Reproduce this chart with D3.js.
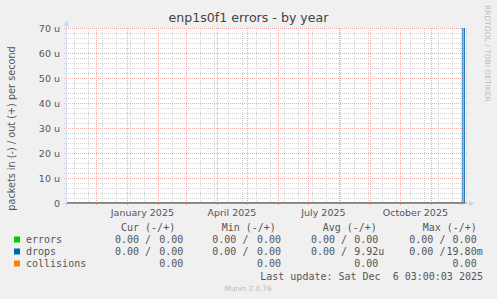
<!DOCTYPE html>
<html>
<head>
<meta charset="utf-8">
<script src="https://cdn.jsdelivr.net/npm/d3@7"></script>
<style>
html, body { margin: 0; padding: 0; background: #f0f0f0; }
svg { display: block; font-family: "DejaVu Sans", sans-serif; }
.mono text { font-family: "DejaVu Sans Mono", monospace; font-size: 10px; fill: #555; white-space: pre; }
</style>
</head>
<body>
<div id="chart"></div>
<script>
const width = 497;
const height = 299;
const plot = { left: 66, right: 466, top: 28, bottom: 203 };

// time window of the yearly graph
const startTime = "2024-11-01T03:00:00Z";
const endTime = "2025-12-06T03:00:00Z";
const minorGridStart = "2024-11-09T00:00:00Z";

// y ticks (packets per second)
const yMajorTicks = [0, 10e-6, 20e-6, 30e-6, 40e-6, 50e-6, 60e-6, 70e-6];
const yMinorTicks = [2e-6, 4e-6, 6e-6, 8e-6, 12e-6, 14e-6, 16e-6, 18e-6, 22e-6, 24e-6, 26e-6, 28e-6,
    32e-6, 34e-6, 36e-6, 38e-6, 42e-6, 44e-6, 46e-6, 48e-6, 52e-6, 54e-6, 56e-6, 58e-6, 62e-6, 64e-6, 66e-6, 68e-6];
const yTickLabels = ["0", "10 u", "20 u", "30 u", "40 u", "50 u", "60 u", "70 u"];

// x labels: one per quarter, centred in the month
const xLabelMonths = ["2025-01-01", "2025-04-01", "2025-07-01", "2025-10-01"];

// series (in = drawn negative, out = positive)
const errorsIn = [["2024-11-01T03:00:00Z", 0], ["2025-12-06T03:00:00Z", 0]];
const errorsOut = [["2024-11-01T03:00:00Z", 0], ["2025-12-06T03:00:00Z", 0]];
const dropsIn = [["2024-11-01T03:00:00Z", 0], ["2025-12-06T03:00:00Z", 0]];
const dropsOut = [["2024-11-01T03:00:00Z", 0], ["2025-12-03T00:00:00Z", 0.0198],
    ["2025-12-04T12:00:00Z", 0], ["2025-12-06T03:00:00Z", 0]];
const collisions = [["2024-11-01T03:00:00Z", 0], ["2025-12-06T03:00:00Z", 0]];

// legend
const seriesNames = ["errors", "drops", "collisions"];
const seriesColors = ["#00cc00", "#0066b3", "#ff8000"];
const legendHeaders = ["Cur (-/+)", "Min (-/+)", "Avg (-/+)", "Max (-/+)"];
const legendCur = [[0, 0], [0, 0], [null, 0]];
const legendMin = [[0, 0], [0, 0], [null, 0]];
const legendAvg = [[0, 0], [0, 9.92e-6], [null, 0]];
const legendMax = [[0, 0], [0, 19.80e-3], [null, 0]];
const lastUpdate = "Last update: Sat Dec\u00a0\u00a06 03:00:03 2025";

const svg = d3.select("#chart")
    .append("svg")
    .attr("width", width)
    .attr("height", height)
    .style("background-color", "#f0f0f0");

const x = d3.scaleUtc([new Date(startTime), new Date(endTime)], [plot.left, plot.right]);
const y = d3.scaleLinear([0, 70e-6], [plot.bottom, plot.top]);

// canvas
svg.append("rect")
    .attr("x", plot.left).attr("y", plot.top)
    .attr("width", plot.right - plot.left).attr("height", plot.bottom - plot.top)
    .attr("fill", "#ffffff");

const grid = svg.append("g").attr("shape-rendering", "crispEdges");
const minorColor = "#d2d2d2";
const majorColor = "#eeaaaa";

// minor grid
grid.selectAll(".hminor").data(yMinorTicks).join("line")
    .attr("x1", plot.left - 2).attr("x2", plot.right + 2)
    .attr("y1", d => Math.round(y(d)) + 0.5).attr("y2", d => Math.round(y(d)) + 0.5)
    .attr("stroke", minorColor).attr("stroke-dasharray", "1,1");

const minorDays = d3.utcDay.range(new Date(minorGridStart), new Date(endTime), 14);
grid.selectAll(".vminor").data(minorDays).join("line")
    .attr("x1", d => Math.round(x(d)) + 0.5).attr("x2", d => Math.round(x(d)) + 0.5)
    .attr("y1", plot.top).attr("y2", plot.bottom)
    .attr("stroke", minorColor).attr("stroke-dasharray", "1,1");

// major grid
grid.selectAll(".hmajor").data(yMajorTicks.slice(1)).join("line")
    .attr("x1", plot.left - 2).attr("x2", plot.right + 2)
    .attr("y1", d => Math.round(y(d)) + 0.5).attr("y2", d => Math.round(y(d)) + 0.5)
    .attr("stroke", majorColor).attr("stroke-dasharray", "1,1");

const months = d3.utcMonth.range(new Date(startTime), new Date(endTime));
grid.selectAll(".vmajor").data(months).join("line")
    .attr("x1", d => Math.round(x(d)) + 0.5).attr("x2", d => Math.round(x(d)) + 0.5)
    .attr("y1", plot.top).attr("y2", plot.bottom + 3)
    .attr("stroke", majorColor).attr("stroke-dasharray", "1,1");

// series
svg.append("clipPath").attr("id", "clip")
    .append("rect")
    .attr("x", plot.left).attr("y", plot.top)
    .attr("width", plot.right - plot.left).attr("height", plot.bottom - plot.top + 1);

const line = d3.line()
    .x(d => x(new Date(d[0])))
    .y(d => y(d[1]))
    .curve(d3.curveStepAfter);
const negLine = d3.line()
    .x(d => x(new Date(d[0])))
    .y(d => y(-d[1]))
    .curve(d3.curveStepAfter);

const lines = svg.append("g").attr("clip-path", "url(#clip)");
[[errorsIn, negLine, 0], [errorsOut, line, 0], [dropsIn, negLine, 1], [dropsOut, line, 1], [collisions, line, 2]]
    .forEach(([data, gen, i]) => {
        lines.append("path")
            .attr("d", gen(data))
            .attr("fill", "none")
            .attr("stroke", seriesColors[i])
            .attr("stroke-width", 1);
    });

// axes
const axisColor = "#cfd6f8";
svg.append("line")
    .attr("x1", plot.left - 3).attr("x2", plot.right + 4)
    .attr("y1", plot.bottom + 0.5).attr("y2", plot.bottom + 0.5)
    .attr("stroke", axisColor);
svg.append("line")
    .attr("x1", plot.left + 0.5).attr("x2", plot.left + 0.5)
    .attr("y1", plot.bottom + 3).attr("y2", plot.top - 5)
    .attr("stroke", axisColor);
svg.append("line")
    .attr("x1", plot.left + 1).attr("x2", plot.right - 1)
    .attr("y1", plot.bottom).attr("y2", plot.bottom)
    .attr("stroke", "#7d8088")
    .attr("stroke-width", 1.6);
svg.append("path")
    .attr("d", `M${plot.left - 2.5},${plot.top - 2} L${plot.left + 3.5},${plot.top - 2} L${plot.left + 0.5},${plot.top - 8} Z`)
    .attr("fill", axisColor);
svg.append("path")
    .attr("d", `M${plot.right + 3},${plot.bottom - 2.5} L${plot.right + 3},${plot.bottom + 3.5} L${plot.right + 9},${plot.bottom + 0.5} Z`)
    .attr("fill", axisColor);

// y tick labels
svg.selectAll(".ylab").data(yMajorTicks).join("text")
    .attr("x", plot.left - 6)
    .attr("y", d => y(d) + 3.5)
    .attr("text-anchor", "end")
    .attr("font-size", 9.5)
    .attr("fill", "#555")
    .text((d, i) => yTickLabels[i]);

// x labels, centred in their month
const fmtMonth = d3.utcFormat("%B %Y");
svg.selectAll(".xlab").data(xLabelMonths).join("text")
    .attr("x", d => {
        const m = new Date(d + "T00:00:00Z");
        return (x(m) + x(d3.utcMonth.offset(m, 1))) / 2;
    })
    .attr("y", 215.5)
    .attr("text-anchor", "middle")
    .attr("font-size", 9.5)
    .attr("fill", "#555")
    .text(d => fmtMonth(new Date(d + "T00:00:00Z")));

// title
svg.append("text")
    .attr("x", 248.5).attr("y", 22)
    .attr("text-anchor", "middle")
    .attr("font-size", 12.6)
    .attr("fill", "#444")
    .text("enp1s0f1 errors - by year");

// y axis label
svg.append("text")
    .attr("transform", "translate(15,128.5) rotate(-90)")
    .attr("text-anchor", "middle")
    .attr("font-size", 9.7)
    .attr("fill", "#555")
    .text("packets in (-) / out (+) per second");

// watermark
svg.append("text")
    .attr("transform", "translate(485,5) rotate(90)")
    .attr("font-size", 7.5)
    .attr("fill", "#bdbdbd")
    .text("RRDTOOL / TOBI OETIKER");

// legend
function fmtVal(v) {
    if (v === 0) return "0.00\u00a0";
    const prefixes = [[1e-3, "m"], [1e-6, "u"], [1e-9, "n"]];
    for (const [p, s] of prefixes) {
        if (Math.abs(v) >= p) return (v / p).toFixed(2) + s;
    }
    return v.toFixed(2) + "\u00a0";
}

const colLeft = [115, 212.3, 311, 409.3];
const colRight = [189.3, 287, 384.3, 482.7];
const headerX = [121, 221.7, 322.7, 422.7];
const rowY = [243, 255, 267];

const legend = svg.append("g").attr("class", "mono");
legend.selectAll(".hdr").data(legendHeaders).join("text")
    .attr("x", (d, i) => headerX[i]).attr("y", 231)
    .text(d => d);

seriesNames.forEach((name, r) => {
    legend.append("rect")
        .attr("x", 14).attr("y", rowY[r] - 6.5)
        .attr("width", 6).attr("height", 6)
        .attr("fill", seriesColors[r]);
    legend.append("text").attr("x", 26).attr("y", rowY[r]).text(name);
    [legendCur, legendMin, legendAvg, legendMax].forEach((col, c) => {
        const [a, b] = col[r];
        if (a !== null) {
            legend.append("text").attr("x", colLeft[c]).attr("y", rowY[r])
                .text(fmtVal(a).trim() + " /");
        }
        legend.append("text").attr("x", colRight[c]).attr("y", rowY[r])
            .attr("text-anchor", "end")
            .text(fmtVal(b));
    });
});

legend.append("text")
    .attr("x", 483).attr("y", 279.5)
    .attr("text-anchor", "end")
    .text(lastUpdate);

svg.append("text")
    .attr("x", 248).attr("y", 290.5)
    .attr("text-anchor", "middle")
    .attr("font-size", 7.2)
    .attr("fill", "#bbb")
    .text("Munin 2.0.76");
</script>
</body>
</html>
